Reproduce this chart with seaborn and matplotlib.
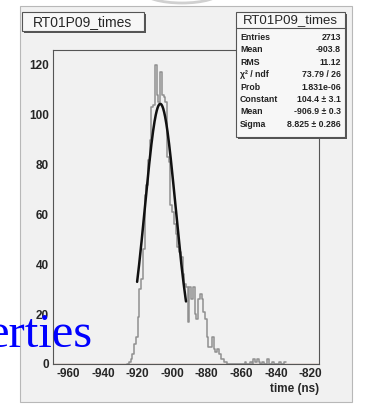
import numpy as np
import pandas as pd
import seaborn as sns
import matplotlib
matplotlib.use("Agg")
import matplotlib.pyplot as plt
from matplotlib.patches import Rectangle, Ellipse

# ---------------- data ----------------
bin_left = list(range(-926, -865))  # 1 ns bins
counts = [0, 1, 2, 4, 8, 11, 19, 30, 34, 46,
          68, 72, 82, 90, 103, 104, 120, 108, 105, 117,
          108, 107, 105, 83, 81, 64, 61, 56, 52, 47,
          45, 43, 36, 32, 31, 17, 31, 26, 31, 20,
          18, 26, 28, 26, 21, 18, 11, 7, 7, 11,
          6, 5, 6, 4, 2, 2, 1, 1, 0, 0, 0]
tail_left = [-858, -855, -853, -852, -851, -850, -848, -845, -842, -838, -835]
tail_counts = [1, 1, 2, 1, 2, 1, 1, 2, 1, 1, 1]

fit_constant = 104.4
fit_mean = -906.9
fit_sigma = 8.825
fit_range = (-920.3, -892.0)

x_ticks = [-960, -940, -920, -900, -880, -860, -840, -820]
y_ticks = [0, 20, 40, 60, 80, 100, 120]

title = "RT01P09_times"
stats_labels = ["Entries", "Mean", "RMS", "\u03c7\u00b2 / ndf", "Prob", "Constant", "Mean", "Sigma"]
stats_values = ["2713", "-903.8", "11.12", "73.79 / 26", "1.831e-06",
                "104.4 \u00b1 3.1", "-906.9 \u00b1 0.3", "8.825 \u00b1 0.286"]
x_label = "time (ns)"

# ---------------- figure ----------------
sns.set_style("white")
plt.rcParams['font.family'] = ['Liberation Sans', 'DejaVu Sans']

W, H = 367, 404
fig = plt.figure(figsize=(W / 100, H / 100), dpi=100)
fig.patch.set_facecolor("white")

def fx(px):
    return px / W

def fy(py):
    return 1 - py / H

panel_col = "#f1f1f1"
# gray panel
fig.patches.append(Rectangle((fx(20), fy(402)), fx(352) - fx(20), fy(6) - fy(402),
                             transform=fig.transFigure, facecolor=panel_col,
                             edgecolor="#b8b8b8", lw=0.8, zorder=-10))
# faint arc at top
fig.patches.append(Ellipse((fx(182), fy(-8)), fx(76), 22 / H, transform=fig.transFigure,
                           facecolor="none", edgecolor="#d0d0d0", lw=2, zorder=-9))

ax = fig.add_axes([fx(53), fy(364), fx(319) - fx(53), fy(50) - fy(364)])
ax.set_zorder(1)
ax.set_facecolor(panel_col)

edges = bin_left + [bin_left[-1] + 1]
df = pd.DataFrame({"x": [b + 0.5 for b in bin_left] + [t + 0.5 for t in tail_left],
                   "w": counts + tail_counts})
all_edges = sorted(set(edges) | set(tail_left) | set(t + 1 for t in tail_left))
sns.histplot(data=df, x="x", weights="w", bins=all_edges, element="step", fill=False,
             color="#909090", linewidth=1.1, ax=ax)

xf = np.linspace(fit_range[0], fit_range[1], 200)
yf = fit_constant * np.exp(-0.5 * ((xf - fit_mean) / fit_sigma) ** 2)
sns.lineplot(x=xf, y=yf, color="#111111", linewidth=1.8, ax=ax)

ax.axhline(0, color="#b08878", lw=1.0, zorder=1)

ax.set_xlim(-969, -815)
ax.set_ylim(0, 126)
ax.set_xticks(x_ticks)
ax.set_yticks(y_ticks)
ax.set_xticklabels([str(t) for t in x_ticks], fontsize=8.5, fontweight="bold")
ax.set_yticklabels([str(t) for t in y_ticks], fontsize=8.5, fontweight="bold")
ax.set_xticks(np.arange(-965, -814, 5), minor=True)
ax.set_yticks(np.arange(0, 126, 5), minor=True)
ax.tick_params(axis="both", which="major", direction="in", length=7, width=0.8,
               color="#555555", pad=3)
ax.tick_params(axis="both", which="minor", direction="in", length=3.5, width=0.6,
               color="#555555")
ax.set_xlabel("")
ax.set_ylabel("")
for s in ax.spines.values():
    s.set_color("#555555")
    s.set_linewidth(0.8)

fig.text(fx(319), fy(389), x_label, ha="right", va="center", fontsize=8.5,
         fontweight="bold")

# title box (left)
def box(x0, y0, x1, y1, z=5):
    fig.patches.append(Rectangle((fx(x0 + 2), fy(y1 + 2)), fx(x1) - fx(x0), fy(y0) - fy(y1),
                                 transform=fig.transFigure, facecolor="#555555",
                                 edgecolor="none", zorder=z))
    fig.patches.append(Rectangle((fx(x0), fy(y1)), fx(x1) - fx(x0), fy(y0) - fy(y1),
                                 transform=fig.transFigure, facecolor="#f7f7f7",
                                 edgecolor="#555555", lw=0.8, zorder=z + 0.1))

box(22, 12, 144, 31)
fig.text(fx(83), fy(22), title, ha="center", va="center", fontsize=10, zorder=10)

# stats box
box(236, 12, 345, 137)
fig.lines.append(plt.Line2D([fx(236), fx(345)], [fy(28), fy(28)], transform=fig.transFigure,
                            color="#555555", lw=0.8, zorder=6))
fig.text(fx(290.5), fy(20), title, ha="center", va="center", fontsize=9.5, zorder=10)
for i, (lab, val) in enumerate(zip(stats_labels, stats_values)):
    yy = 37.5 + i * 12.4
    fig.text(fx(240), fy(yy), lab, ha="left", va="center", fontsize=6.3,
             fontweight="bold", color="#222222", zorder=10)
    fig.text(fx(341), fy(yy), val, ha="right", va="center", fontsize=6.3,
             fontweight="bold", color="#222222", zorder=10)

# blue overlay text from the slide
fig.text(fx(-13), fy(347), "erties", ha="left", va="baseline", fontsize=35,
         family=["Liberation Serif"], color="#0000ff", zorder=20)

fig.savefig("out.png", dpi=100)
